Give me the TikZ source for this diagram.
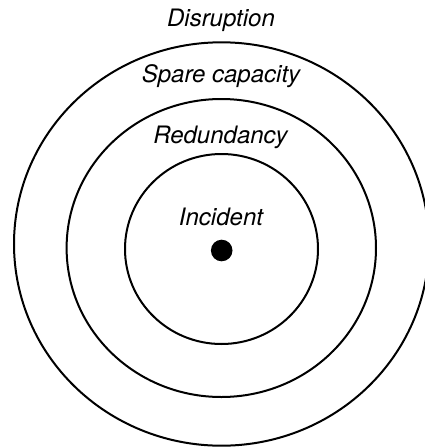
\documentclass[tikz,border=0pt]{standalone}
\usepackage{fontspec}
\setmainfont{TeX Gyre Heros}
\usetikzlibrary{positioning}

\begin{document}
\begin{tikzpicture}[
    x=1pt, y=-1pt,
    ring/.style={
        draw=black,
        line width=2pt
    },
    layer/.style={
        font=\itshape\fontsize{24}{28}\selectfont,
        anchor=base,
        inner sep=0pt
    },
    spot/.style={
        circle,
        fill=black,
        inner sep=0pt,
        minimum size=21.6pt
    }
]
\useasboundingbox (0,0) rectangle (425,448);

% rings, outermost first
\draw[ring] (221.5,244) ellipse [x radius=207.5, y radius=201.7];
\draw[ring] (221.3,248) ellipse [x radius=154.7, y radius=149];
\draw[ring] (221.5,249) ellipse [x radius=96.5, y radius=95];

\node[spot] (incident) at (221.7,250.5) {};

\node[layer] (disruption) at (221,26.7) {Disruption};
\node[layer] (spare) at (221,82.7) {Spare capacity};
\node[layer] (redundancy) at (220.5,143.3) {Redundancy};
\node[layer] (incidentlabel) at (221,225) {Incident};

\end{tikzpicture}
\end{document}
